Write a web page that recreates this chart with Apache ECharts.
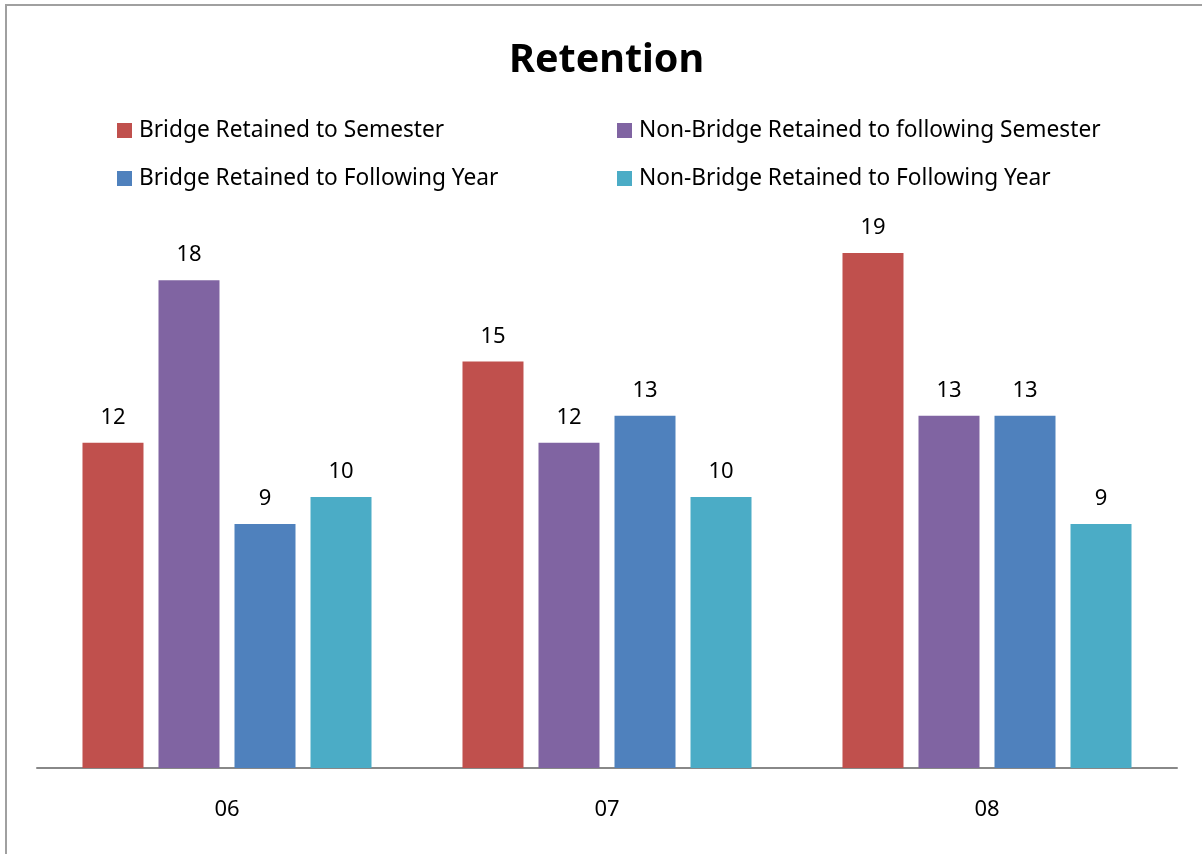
<!DOCTYPE html>
<html>
<head>
<meta charset="utf-8">
<script src="https://cdn.jsdelivr.net/npm/echarts@6/dist/echarts.min.js"></script>
<style>
html,body{margin:0;padding:0;background:#fff;}
#chart{width:1202px;height:854px;}
</style>
</head>
<body>
<div id="chart"></div>
<script>
const categories = ['06', '07', '08'];
const seriesNames = [
  'Bridge Retained to Semester',
  'Non-Bridge Retained to following Semester',
  'Bridge Retained to Following Year',
  'Non-Bridge Retained to Following Year'
];
const bridgeSemester = [12, 15, 19];
const nonBridgeSemester = [18, 12, 13];
const bridgeYear = [9, 13, 13];
const nonBridgeYear = [10, 10, 9];
const colors = ['#C0504D', '#8064A2', '#4F81BD', '#4BACC6'];
const values = [bridgeSemester, nonBridgeSemester, bridgeYear, nonBridgeYear];

const FONT = 'Noto Sans';
const legendPos = [
  {left: 112, top: 114},
  {left: 612, top: 114},
  {left: 112, top: 162},
  {left: 612, top: 162}
];

const chart = echarts.init(document.getElementById('chart'));
chart.setOption({
  animation: false,
  backgroundColor: '#fff',
  title: {
    text: 'Retention',
    left: 504,
    top: 36,
    textStyle: {fontFamily: FONT, fontSize: 39.5, fontWeight: 'bold', color: '#000'}
  },
  legend: seriesNames.map((n, i) => ({
    data: [n],
    left: legendPos[i].left,
    top: legendPos[i].top,
    icon: 'rect',
    itemWidth: 15,
    itemHeight: 15,
    itemGap: 8,
    textStyle: {fontFamily: FONT, fontSize: 22.7, color: '#000', padding: [0, 0, 0, 2]}
  })),
  grid: {left: 37, right: 25, top: 226, bottom: 86, containLabel: false},
  xAxis: {
    type: 'category',
    data: categories,
    axisLine: {lineStyle: {color: '#888', width: 2}},
    axisTick: {show: false},
    axisLabel: {fontFamily: FONT, fontSize: 22, color: '#000', margin: 31}
  },
  yAxis: {
    type: 'value',
    min: 0,
    max: 20,
    show: false,
    splitLine: {show: false}
  },
  series: seriesNames.map((n, i) => ({
    name: n,
    type: 'bar',
    data: values[i],
    barWidth: 61,
    barGap: '24.6%',
    itemStyle: {color: colors[i]},
    label: {
      show: true,
      position: 'top',
      distance: 14,
      fontFamily: FONT,
      fontSize: 22,
      color: '#000'
    }
  })),
  graphic: [{
    type: 'rect',
    shape: {x: 6, y: 5, width: 1300, height: 1000},
    style: {fill: 'none', stroke: '#a0a0a0', lineWidth: 2},
    silent: true,
    z: 100
  }]
});
</script>
</body>
</html>
